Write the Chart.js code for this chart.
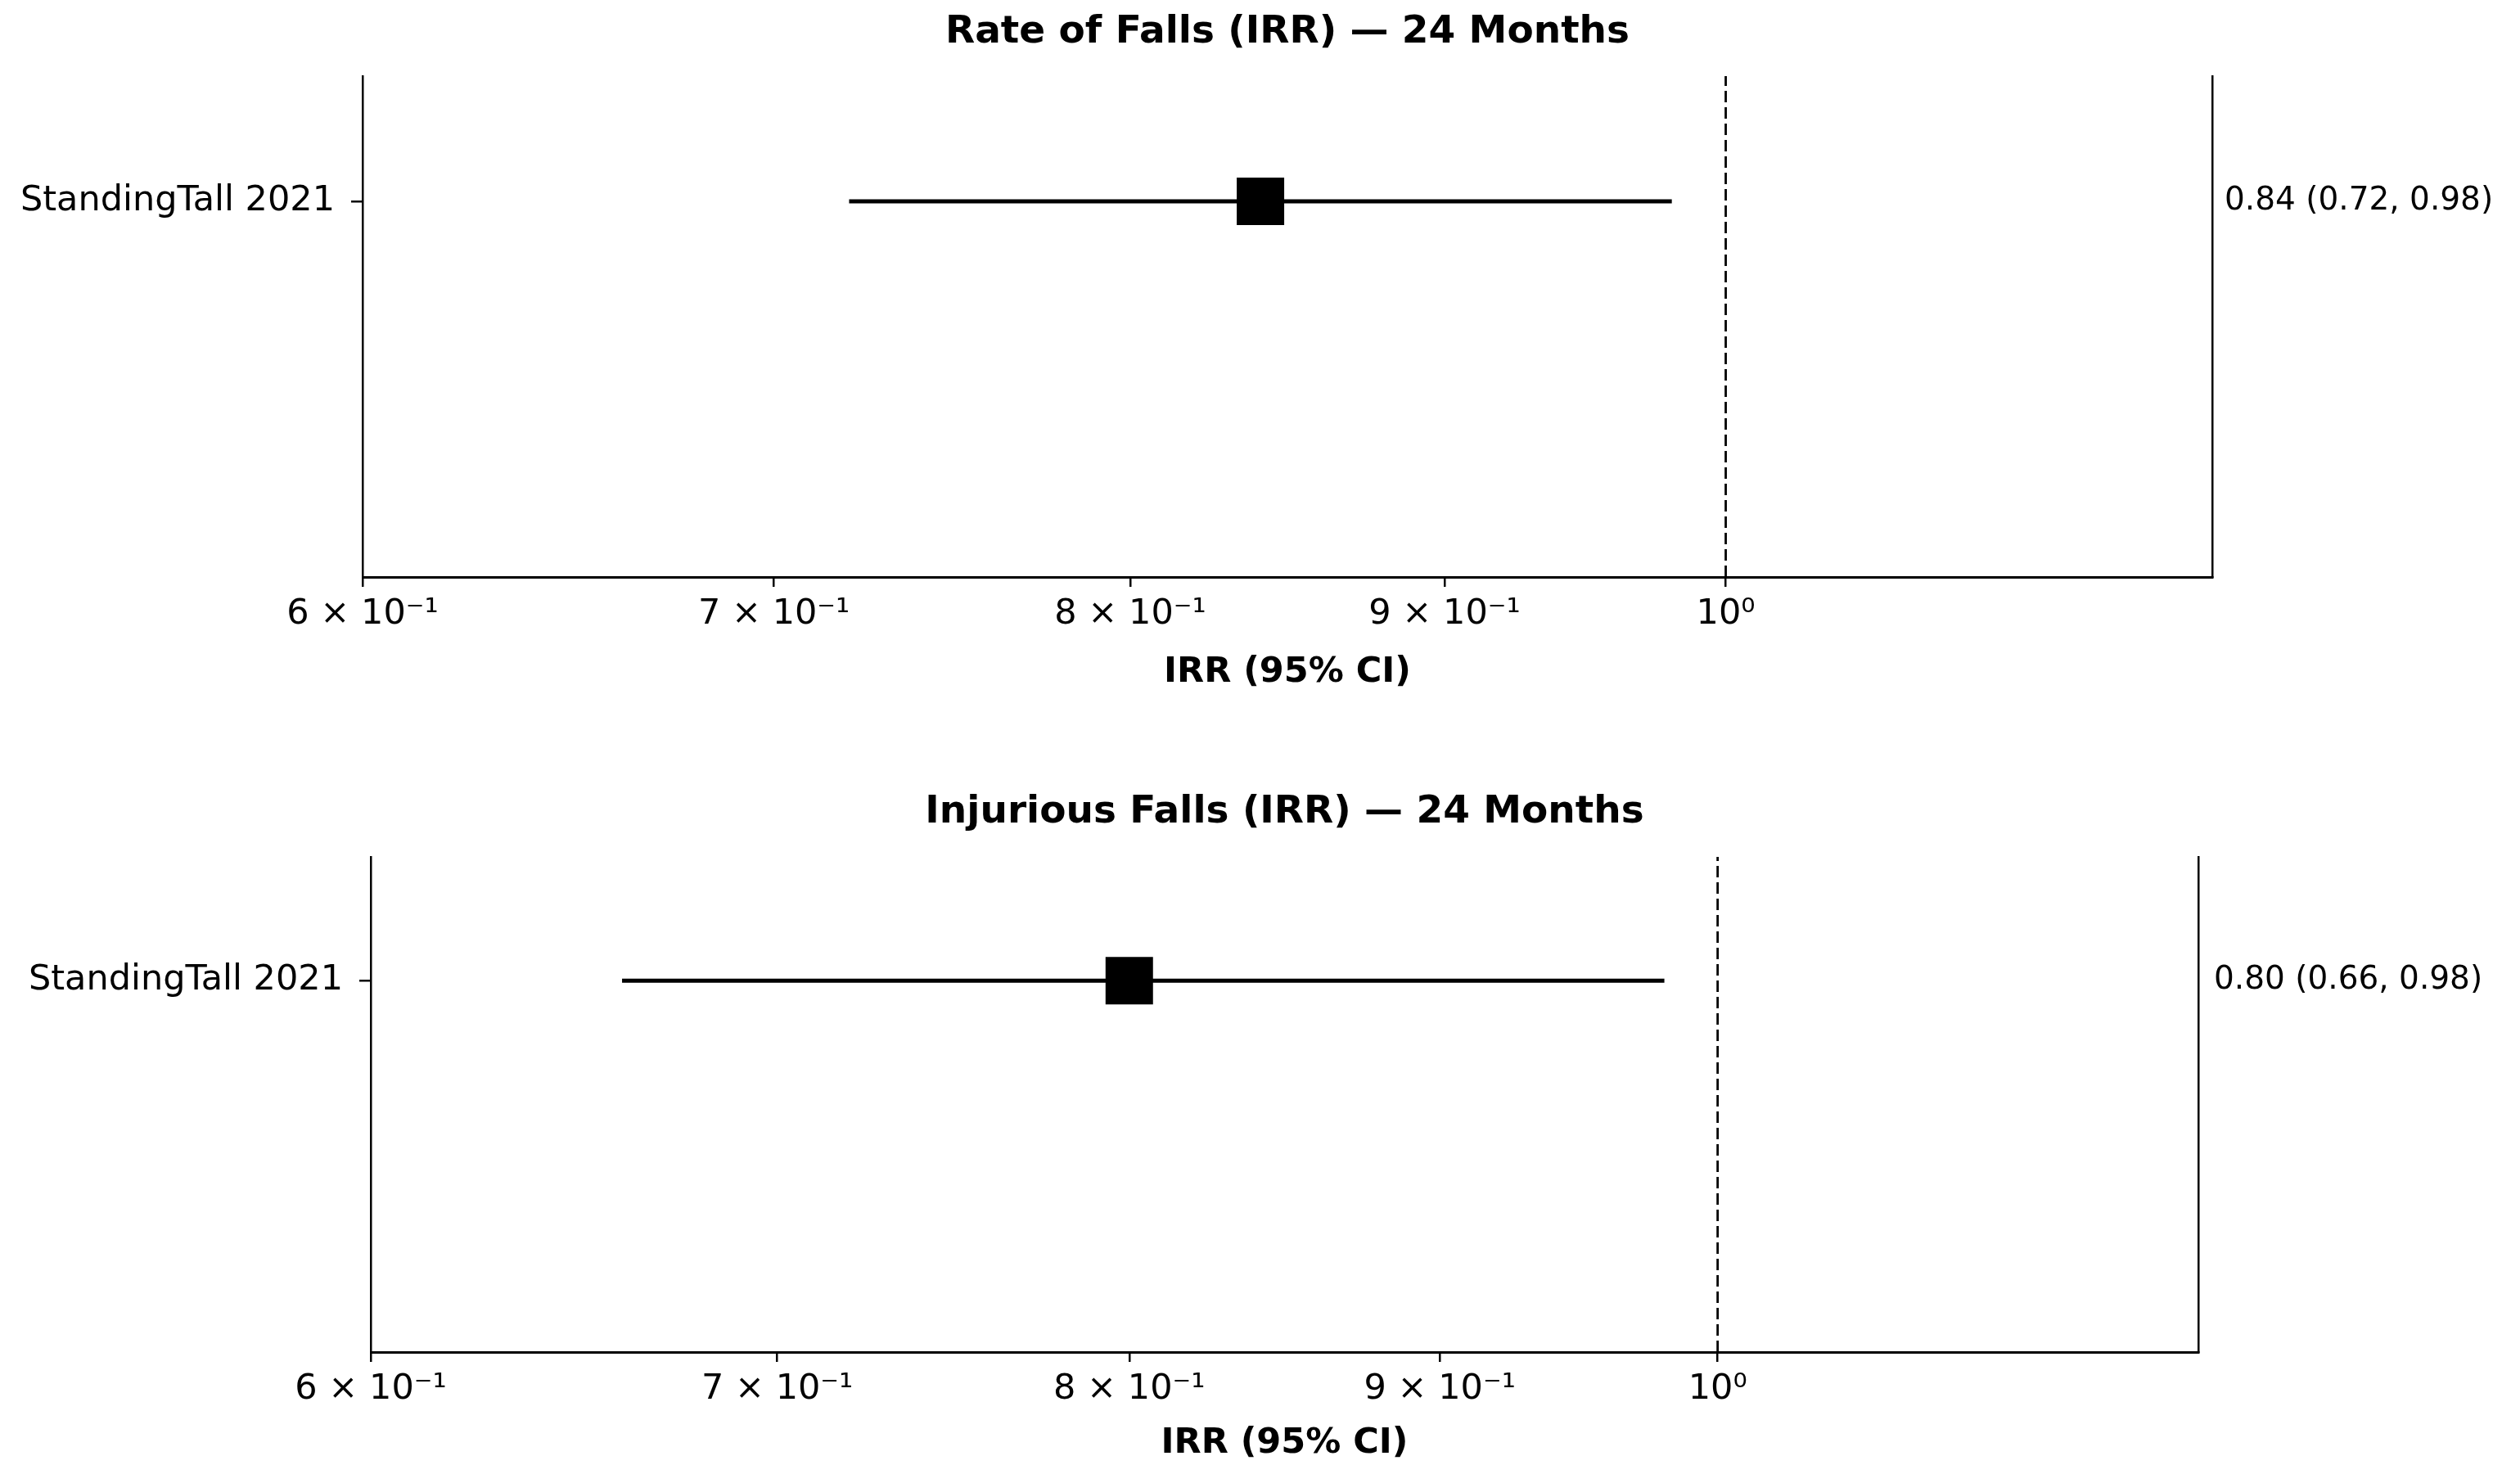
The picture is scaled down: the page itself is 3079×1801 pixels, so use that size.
<!DOCTYPE html>
<html>
<head>
<meta charset="utf-8">
<script src="https://cdn.jsdelivr.net/npm/chart.js@4.4.1/dist/chart.umd.min.js"></script>
<style>
  html, body { margin: 0; padding: 0; background: #fff; }
  #wrap { position: relative; width: 3079px; height: 1801px; background: #fff; }
  canvas { position: absolute; left: 0; }
</style>
</head>
<body>
<div id="wrap">
  <canvas id="c-falls" width="3079" height="900" style="top:0"></canvas>
  <canvas id="c-injurious" width="3079" height="901" style="top:900px"></canvas>
</div>
<script>
// ---- datos ----
const studies = ["StandingTall 2021"];
const studyY = [0];

const fallsEst = [0.84];
const fallsLo = [0.72];
const fallsHi = [0.98];

const injEst = [0.80];
const injLo = [0.66];
const injHi = [0.98];

const xTicks = [0.6, 0.7, 0.8, 0.9, 1.0];
const xTickLabels = ["6 × 10⁻¹", "7 × 10⁻¹", "8 × 10⁻¹", "9 × 10⁻¹", "10⁰"];
const xMin = 0.6, xMax = 1.2;
const yMin = -3, yMax = 1;
const refValue = 1;

const panelTitles = ["Rate of Falls (IRR) — 24 Months", "Injurious Falls (IRR) — 24 Months"];
const xLabel = "IRR (95% CI)";

const FONT = "'DejaVu Sans', 'Liberation Sans', sans-serif";

// titulo centrado sobre el area del grafico
const panelTitle = {
  id: "panelTitle",
  afterDraw(chart, args, opts) {
    const { ctx, chartArea } = chart;
    ctx.save();
    ctx.fillStyle = "#000";
    ctx.font = "bold 47px " + FONT;
    ctx.textAlign = "center";
    ctx.textBaseline = "alphabetic";
    ctx.fillText(opts.text, (chartArea.left + chartArea.right) / 2, opts.y);
    ctx.restore();
  }
};

function fmt(v) { return v.toFixed(2); }

function crearPanel(canvasId, est, lo, hi, title, lay) {
  const notes = est.map((e, i) => `${fmt(e)} (${fmt(lo[i])}, ${fmt(hi[i])})`);

  return new Chart(document.getElementById(canvasId), {
    type: "scatter",
    data: {
      datasets: [
        {
          label: "Estimate",
          data: est.map((e, i) => ({ x: e, y: studyY[i] })),
          pointStyle: "rect",
          pointRadius: 41,
          pointHoverRadius: 41,
          backgroundColor: "#000",
          borderWidth: 0
        },
        ...est.map((e, i) => ({
          label: "CI " + studies[i],
          data: [{ x: lo[i], y: studyY[i] }, { x: hi[i], y: studyY[i] }],
          showLine: true,
          borderColor: "#000",
          borderWidth: 5,
          pointRadius: 0
        })),
        {
          label: "Null",
          data: [{ x: refValue, y: yMin }, { x: refValue, y: yMax }],
          showLine: true,
          borderColor: "#000",
          borderWidth: 2.8,
          borderDash: [14, 6],
          pointRadius: 0
        }
      ]
    },
    options: {
      responsive: false,
      animation: false,
      devicePixelRatio: 1,
      layout: { padding: { top: lay.top, bottom: lay.bottom, left: 0, right: 0 } },
      plugins: {
        legend: { display: false },
        tooltip: { enabled: false },
        panelTitle: { text: title, y: lay.titleY }
      },
      scales: {
        x: {
          type: "logarithmic",
          min: xMin,
          max: xMax,
          afterBuildTicks: ax => { ax.ticks = xTicks.map(v => ({ value: v })); },
          afterFit: s => { s.height = lay.xHeight; },
          ticks: {
            autoSkip: false,
            maxRotation: 0,
            padding: 8,
            color: "#000",
            font: { family: FONT, size: 43 },
            callback: (v, i) => xTickLabels[i]
          },
          grid: { display: true, drawOnChartArea: false, drawTicks: true, tickLength: 12, color: "#000", lineWidth: 2.5 },
          border: { display: true, color: "#000", width: 3 },
          title: {
            display: true,
            text: xLabel,
            color: "#000",
            padding: { top: 0, bottom: 0 },
            font: { family: FONT, size: 43, weight: "bold" }
          }
        },
        y: {
          type: "linear",
          min: yMin,
          max: yMax,
          afterBuildTicks: ax => { ax.ticks = studyY.map(v => ({ value: v })); },
          afterFit: s => { s.width = lay.left; },
          ticks: {
            padding: 20,
            color: "#000",
            font: { family: FONT, size: 43 },
            callback: (v, i) => studies[i]
          },
          grid: { display: true, drawOnChartArea: false, drawTicks: true, tickLength: 14, color: "#000", lineWidth: 2.5 },
          border: { display: true, color: "#000", width: 2.5 }
        },
        y2: {
          type: "linear",
          position: "right",
          min: yMin,
          max: yMax,
          afterBuildTicks: ax => { ax.ticks = studyY.map(v => ({ value: v })); },
          afterFit: s => { s.width = lay.right; },
          ticks: {
            padding: lay.notePad,
            color: "#000",
            font: { family: FONT, size: 39 },
            callback: (v, i) => notes[i]
          },
          grid: { display: true, drawOnChartArea: false, drawTicks: false },
          border: { display: true, color: "#000", width: 2.5 }
        }
      }
    },
    plugins: [panelTitle]
  });
}

document.addEventListener("DOMContentLoaded", () => {
  crearPanel("c-falls", fallsEst, fallsLo, fallsHi, panelTitles[0],
    { top: 93, bottom: 52, left: 443, right: 376, xHeight: 143, notePad: 15, titleY: 52 });
  crearPanel("c-injurious", injEst, injLo, injHi, panelTitles[1],
    { top: 147, bottom: 11, left: 453, right: 393, xHeight: 138, notePad: 19, titleY: 105 });
});
</script>
</body>
</html>
